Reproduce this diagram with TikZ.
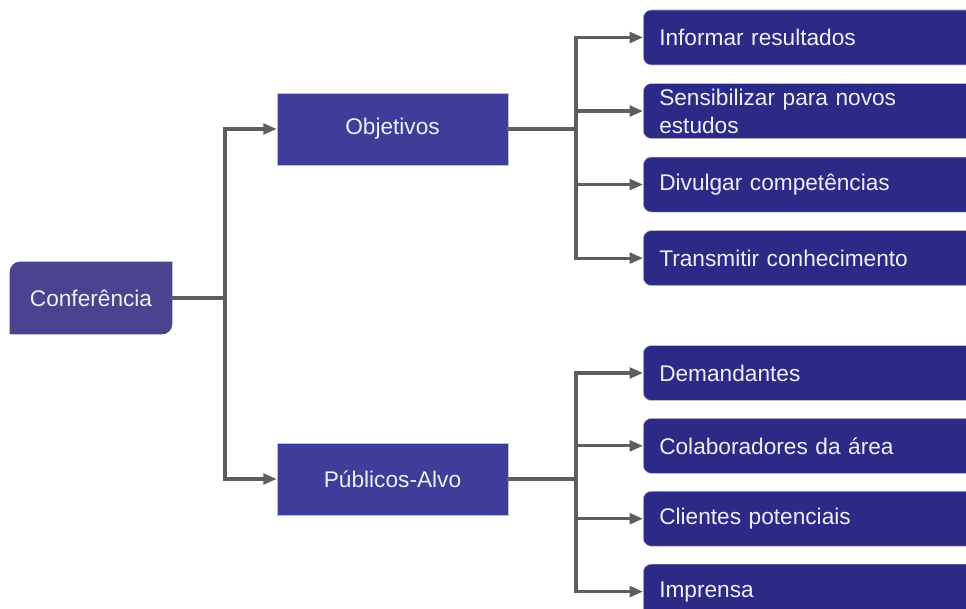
\documentclass[tikz,border=0pt]{standalone}
\usepackage{fontspec}
\setmainfont{Liberation Sans}
\usetikzlibrary{arrows.meta, positioning, backgrounds}
\definecolor{rootblue}{HTML}{4A4490}
\definecolor{midblue}{HTML}{3D3E9A}
\definecolor{leafblue}{HTML}{2C2A87}
\definecolor{linegray}{HTML}{5E5E5E}
\definecolor{txtwhite}{HTML}{EEEEF7}

\begin{document}
\begin{tikzpicture}[x=0.75pt, y=-0.75pt,
  box/.style={text=txtwhite, font=\fontsize{17pt}{21pt}\selectfont, inner sep=0pt},
  root/.style={box, minimum width=121.5pt, minimum height=54pt},
  mid/.style={box, fill=midblue, draw=black!25, line width=0.4pt, minimum width=173.25pt, minimum height=54pt},
  leaf/.style={box, fill=leafblue, draw=black!25, line width=0.4pt, rounded corners=6pt, anchor=west, minimum height=41.25pt, text width=231pt, inner xsep=12pt, align=left},
  link/.style={draw=linegray, line width=2.3pt, line cap=rect},
  arrow/.style={link, -{Triangle[length=10pt, width=8pt]}}
]
  \useasboundingbox (0,0) rectangle (966,609);
  \clip (0,0) rectangle (966,609);

  % Root and middle level
  \node[root] (conf) at (91,298) {Conferência};
  \begin{scope}[on background layer]
    \fill[rootblue] (conf.south west) -- ([yshift=-7.5pt]conf.north west) arc[start angle=180, end angle=90, radius=7.5pt]
      -- (conf.north east) -- ([yshift=7.5pt]conf.south east) arc[start angle=0, end angle=-90, radius=7.5pt] -- cycle;
  \end{scope}
  \node[mid] (obj) at (392.5,129) {Objetivos};
  \node[mid] (pub) at (392.5,479) {Públicos-Alvo};
  \coordinate (jroot) at (225,298);
  \draw[link] (conf.east) -- (jroot);
  \draw[link] (jroot |- obj.west) -- (jroot |- pub.west);
  \draw[arrow] (jroot |- obj.west) -- (obj.west);
  \draw[arrow] (jroot |- pub.west) -- (pub.west);

  % Objetivos (top right)
  \node[leaf] (o1) at (643,37.5) {Informar resultados};
  \node[leaf, below=13.5pt of o1] (o2) {Sensibilizar para novos\\estudos};
  \node[leaf, below=13.5pt of o2] (o3) {Divulgar competências};
  \node[leaf, below=13.5pt of o3] (o4) {Transmitir conhecimento};
  \coordinate (jobj) at (576,129);
  \draw[link] (obj.east) -- (jobj);
  \draw[link] (jobj |- o1.west) -- (jobj |- o4.west);
  \foreach \n in {o1,o2,o3,o4}
    \draw[arrow] (jobj |- \n.west) -- (\n.west);

  % Publicos-Alvo (bottom right)
  \node[leaf] (p1) at (643,373) {Demandantes};
  \node[leaf, below=13pt of p1] (p2) {Colaboradores da área};
  \node[leaf, below=13pt of p2] (p3) {Clientes potenciais};
  \node[leaf, below=13pt of p3] (p4) {Imprensa};
  \coordinate (jpub) at (576,479);
  \draw[link] (pub.east) -- (jpub);
  \draw[link] (jpub |- p1.west) -- (jpub |- p4.west);
  \foreach \n in {p1,p2,p3,p4}
    \draw[arrow] (jpub |- \n.west) -- (\n.west);

\end{tikzpicture}
\end{document}
